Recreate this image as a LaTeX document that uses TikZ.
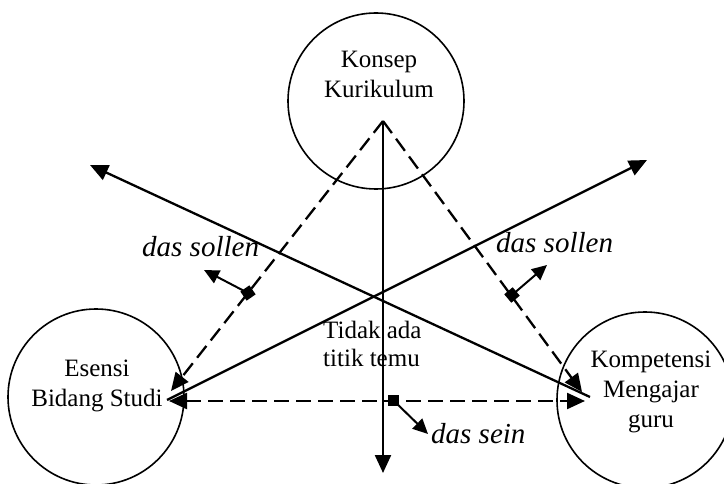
\documentclass[tikz,border=0pt]{standalone}
\usepackage{fontspec}
\setmainfont{Liberation Serif}
\usetikzlibrary{arrows.meta}
\begin{document}
\begin{tikzpicture}[x=1pt,y=-1pt,
  circ/.style={circle,draw,line width=1.6pt,minimum size=176pt,inner sep=0pt},
  lbl/.style={font=\fontsize{25}{30}\selectfont,align=center,inner sep=0pt,anchor=north},
  itl/.style={font=\fontsize{29}{34}\selectfont\itshape,inner sep=0pt,anchor=base west},
  bigtip/.style={-{Triangle[length=18pt,width=16pt]}},
  smalltip/.style={-{Triangle[length=15pt,width=14pt]}},
  solidline/.style={line width=2.3pt},
  dashline/.style={line width=2.3pt,dash pattern=on 15pt off 7pt},
  sq/.style={fill,rectangle,minimum size=11pt,inner sep=0pt}
]
\useasboundingbox (0,0) rectangle (724,484);
% circles
\node[circ] (kk) at (376,101) {};
\node[circ] (eb) at (96,397) {};
\node[circ] (km) at (645,400) {};
% circle texts
\node[lbl] (tkk) at (379,50.5) {Konsep\\Kurikulum};
\node[lbl] (teb) at (97,359.5) {\fontsize{25}{31}\selectfont Esensi\\Bidang Studi};
\node[lbl] (tkm) at (651,351) {Kompetensi\\Mengajar\\guru};
\node[font=\fontsize{25}{28}\selectfont,align=left,inner sep=0pt,anchor=north west] (ttt) at (323,320.5) {Tidak ada\\titik temu};
% coordinates
\coordinate (apex) at (383,121);
\coordinate (vbot) at (383,473);
\coordinate (dlend) at (171,391);
\coordinate (drend) at (582,392);
\coordinate (s1a) at (590,397);
\coordinate (s1b) at (90,165);
\coordinate (s2a) at (167,400);
\coordinate (s2b) at (647,160);
\coordinate (hl) at (169,401);
\coordinate (hr) at (585,401);
% main connectors
\draw[solidline,bigtip] (apex) -- (vbot);
\draw[dashline,bigtip] (apex) -- (dlend);
\draw[dashline,bigtip] (apex) -- (drend);
\draw[solidline,bigtip] (s1a) -- (s1b);
\draw[solidline,bigtip] (s2a) -- (s2b);
\draw[dashline,{Triangle[length=18pt,width=16pt]}-{Triangle[length=18pt,width=16pt]}] (hl) -- (hr);
% small markers and arrows
\node[sq,rotate=35] (m1) at (248,293) {};
\coordinate (t1) at (204,270);
\draw[line width=2pt,smalltip] (m1.center) -- (t1);
\node[sq,rotate=40] (m2) at (512,295) {};
\coordinate (t2) at (547,265);
\draw[line width=2pt,smalltip] (m2.center) -- (t2);
\node[sq] (m3) at (393,400) {};
\coordinate (t3) at (428,434);
\draw[line width=2pt,smalltip] (m3.center) -- (t3);
% italic labels
\node[itl] (ds1) at (142,257) {das sollen};
\node[itl] (ds2) at (496,253) {das sollen};
\node[itl] (ds3) at (431,443) {das sein};
\end{tikzpicture}
\end{document}
